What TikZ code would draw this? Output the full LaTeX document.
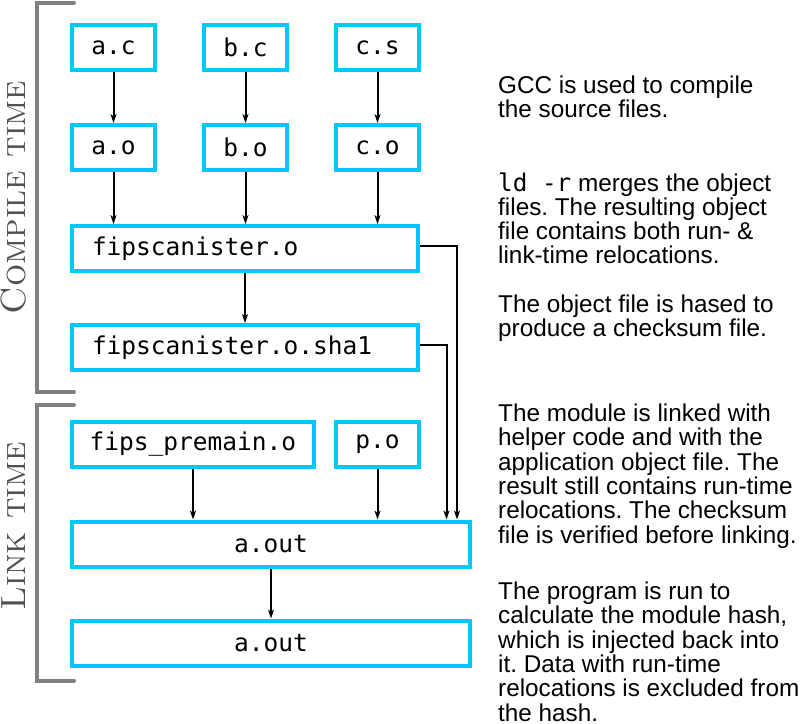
\documentclass[tikz,border=0pt]{standalone}
\usepackage{fontspec}
\newfontfamily\sansfont{Liberation Sans}
\newfontfamily\codefont{DejaVu Sans Mono}
\usetikzlibrary{arrows.meta}
\frenchspacing
\definecolor{boxcyan}{RGB}{0,200,255}
\definecolor{bracketgray}{RGB}{128,128,128}
\definecolor{labelgray}{RGB}{80,80,80}
\tikzset{
  box/.style={draw=boxcyan, line width=4pt, rectangle, inner sep=0pt,
    font=\codefont\fontsize{24.5}{24.5}\selectfont, minimum height=45pt},
  arr/.style={line width=2pt, -{Stealth[length=9pt,width=6pt,inset=2.5pt]}},
  brk/.style={draw=bracketgray, line width=4pt, line cap=round},
  note/.style={font=\sansfont\fontsize{24.3}{24.3}\selectfont\frenchspacing, align=left, anchor=base west, inner sep=0pt},
  phase/.style={font=\fontsize{35}{35}\selectfont\scshape, text=labelgray, rotate=90, inner sep=0pt}
}
\begin{document}
\begin{tikzpicture}[x=1pt,y=-1pt]
\useasboundingbox (0,0) rectangle (800,723);
% brackets
\draw[brk] (74,2.5) -- (37,2.5) -- (37,392) -- (74,392);
\draw[brk] (74,405) -- (37,405) -- (37,680.5) -- (74,680.5);
\node[phase] (ct) at (14,197.5) {Compile time};
\node[phase] (lt) at (14,526) {Link time};
% compile boxes
\node[box, minimum width=83pt] (ac) at (113.5,47.5) {a.c};
\node[box, minimum width=83pt] (bc) at (245.5,47.5) {b.c};
\node[box, minimum width=83pt] (cs) at (377.5,47.5) {c.s};
\node[box, minimum width=83pt] (ao) at (113.5,147.5) {a.o};
\node[box, minimum width=83pt] (bo) at (245.5,147.5) {b.o};
\node[box, minimum width=83pt] (co) at (377.5,147.5) {c.o};
\node[box] (fo) at (245,248.5) {\makebox[346pt][l]{\hspace{20pt}fipscanister.o}};
\node[box] (sha) at (245,347.5) {\makebox[346pt][l]{\hspace{20pt}fipscanister.o.sha1}};
% link boxes
\node[box, minimum width=242pt] (fp) at (193,444) {fips\_premain.o};
\node[box, minimum width=83pt] (po) at (377.5,444) {p.o};
\node[box, minimum width=398pt] (out1) at (271,544) {a.out};
\node[box, minimum width=398pt] (out2) at (271,643) {a.out};
% arrows
\draw[arr] (ac.south) -- (ao.north);
\draw[arr] (bc.south) -- (bo.north);
\draw[arr] (cs.south) -- (co.north);
\draw[arr] (ao.south) -- (ao.south |- fo.north);
\draw[arr] (bo.south) -- (bo.south |- fo.north);
\draw[arr] (co.south) -- (co.south |- fo.north);
\draw[arr] (fo.south) -- (sha.north);
\coordinate (j1) at (457,246);
\coordinate (j2) at (446.5,345);
\draw[arr] (fo.east |- j1) -- (j1) -- (j1 |- out1.north);
\draw[arr] (sha.east |- j2) -- (j2) -- (j2 |- out1.north);
\draw[arr] (fp.south) -- (fp.south |- out1.north);
\draw[arr] (po.south) -- (po.south |- out1.north);
\draw[arr] (out1.south) -- (out2.north);
% notes (anchored at the baseline of their last line)
\node[note] (t1) at (498,117.3) {GCC is used to compile\\the source files.};
\node[note] (t2) at (498,263.9) {{\codefont ld -r} merges the object\\files. The resulting object\\file contains both run- \&\\link-time relocations.};
\node[note] (t3) at (498,336.3) {The object file is hased to\\produce a checksum file.};
\node[note] (t4) at (498,543) {The module is linked with\\helper code and with the\\application object file. The\\result still contains run-time\\relocations. The checksum\\file is verified before linking.};
\node[note] (t5) at (498,721) {The program is run to\\calculate the module hash,\\which is injected back into\\it. Data with run-time\\relocations is excluded from\\the hash.};
\end{tikzpicture}
\end{document}
